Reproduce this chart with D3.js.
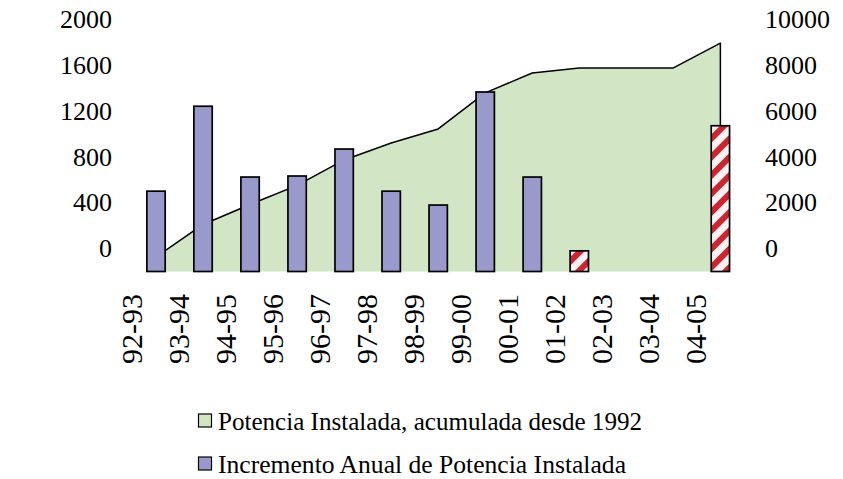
<!DOCTYPE html>
<html>
<head>
<meta charset="utf-8">
<script src="https://cdn.jsdelivr.net/npm/d3@7"></script>
<style>
  html, body { margin: 0; padding: 0; background: #fff; }
  svg { display: block; }
</style>
</head>
<body>
<script>
// Campañas (años hidrológicos)
const categories = ["92-93", "93-94", "94-95", "95-96", "96-97", "97-98", "98-99",
                    "99-00", "00-01", "01-02", "02-03", "03-04", "04-05"];
// Incremento anual de potencia instalada (MW, eje izquierdo)
const incremento = [500, 1240, 623, 632, 867, 500, 379, 1364, 623, null, null, null, null];
// Incremento de las últimas campañas (barras rayadas, eje izquierdo)
const incrementoRayado = [null, null, null, null, null, null, null, null, null, -20, null, null, 1070];
// Potencia instalada acumulada desde 1992 (eje derecho)
const acumulada = [-370, 1050, 1920, 2750, 3860, 4600, 5210, 6780, 7650, 7870, 7870, 7870, 8950];
// Marcas de los ejes
const leftTicks = [0, 400, 800, 1200, 1600, 2000];
const rightTicks = [0, 2000, 4000, 6000, 8000, 10000];
const legendLabels = ["Potencia Instalada, acumulada desde 1992",
                      "Incremento Anual de Potencia Instalada"];

const FONT = "Liberation Serif, DejaVu Serif, serif";
const W = 843, H = 479;
const plot = { left: 132.5, right: 743.9, top: 19, bottom: 271.5 };

const svg = d3.select("body").append("svg")
  .attr("width", W).attr("height", H);
const defs = svg.append("defs");

// diagonal red stripes for the hatched bars
const pat = defs.append("pattern")
  .attr("id", "rayas").attr("patternUnits", "userSpaceOnUse")
  .attr("width", 13).attr("height", 13)
  .attr("patternTransform", "rotate(45)");
pat.append("rect").attr("width", 13).attr("height", 13).attr("fill", "#fff0f1");
pat.append("rect").attr("width", 6).attr("height", 13).attr("fill", "#cc2530");

const x = d3.scaleBand().domain(categories).range([plot.left, plot.right]).padding(0);
const yL = d3.scaleLinear().domain([-200, 2000]).range([plot.bottom, plot.top]);
const yR = d3.scaleLinear().domain([-1000, 10000]).range([plot.bottom, plot.top]);
const center = c => x(c) + x.bandwidth() / 2;
const barW = x.bandwidth() * 0.39;

// cumulative area (drawn behind the bars)
const pts = categories.map((c, i) => ({ c, v: acumulada[i] }));
const area = d3.area().x(d => center(d.c)).y0(plot.bottom).y1(d => yR(d.v));
svg.append("path").datum(pts).attr("d", area).attr("fill", "#d2e6c5");
const outline = d3.line().x(d => d[0]).y(d => d[1]);
const first = pts[0], last = pts[pts.length - 1];
const lineCoords = [[center(first.c), plot.bottom]]
  .concat(pts.map(d => [center(d.c), yR(d.v)]))
  .concat([[center(last.c), plot.bottom]]);
svg.append("path").attr("d", outline(lineCoords))
  .attr("fill", "none").attr("stroke", "#000").attr("stroke-width", 1.5)
  .attr("stroke-linejoin", "round");

// annual increment bars
function drawBars(values, fill) {
  svg.append("g").selectAll("rect")
    .data(categories.map((c, i) => ({ c, v: values[i] })).filter(d => d.v !== null))
    .join("rect")
    .attr("x", d => center(d.c) - barW / 2)
    .attr("width", barW)
    .attr("y", d => yL(d.v))
    .attr("height", d => plot.bottom - yL(d.v))
    .attr("fill", fill)
    .attr("stroke", "#000").attr("stroke-width", 1.7);
}
drawBars(incremento, "#9999cc");
drawBars(incrementoRayado, "url(#rayas)");

function styleText(sel, size) {
  sel.style("font-family", FONT).style("font-size", size + "px").attr("fill", "#000");
}

// left axis labels
const axisL = d3.axisLeft(yL).tickValues(leftTicks).tickSize(0).tickPadding(0).tickFormat(d3.format("d"));
const gL = svg.append("g").attr("transform", "translate(112,0)").call(axisL);
gL.select(".domain").remove();
styleText(gL.selectAll("text"), 26);

// right axis labels
const axisR = d3.axisRight(yR).tickValues(rightTicks).tickSize(0).tickPadding(0).tickFormat(d3.format("d"));
const gR = svg.append("g").attr("transform", "translate(765,0)").call(axisR);
gR.select(".domain").remove();
styleText(gR.selectAll("text"), 26);

// category labels, rotated
styleText(svg.append("g").selectAll("text").data(categories).join("text")
  .attr("transform", d => `translate(${x(d) - 1},294) rotate(-90)`)
  .attr("text-anchor", "end").attr("dy", "0.35em")
  .text(d => d), 30);

// axis titles (clipped at the chart edge)
[[9.5, 16.8], [835.5, 843]].forEach(([x0, x1], i) => {
  const id = "clipTitulo" + i;
  defs.append("clipPath").attr("id", id)
    .append("rect").attr("x", x0).attr("y", 120).attr("width", x1 - x0).attr("height", 90);
  styleText(svg.append("text").attr("clip-path", `url(#${id})`)
    .attr("transform", `translate(${x1},165) rotate(-90)`)
    .attr("text-anchor", "middle").text("MW"), 26);
});

// legend
const legendFills = ["#d2e6c5", "#9999cc"];
const lg = svg.append("g");
legendLabels.forEach((t, i) => {
  const yb = 430 + i * 43;
  lg.append("rect").attr("x", 198.5).attr("y", yb - 16).attr("width", 13).attr("height", 13)
    .attr("fill", legendFills[i]).attr("stroke", "#000").attr("stroke-width", 1.2);
  styleText(lg.append("text").attr("x", 218).attr("y", yb)
    .attr("textLength", i === 0 ? 424 : 408).attr("lengthAdjust", "spacingAndGlyphs")
    .text(t), 26);
});
</script>
</body>
</html>
